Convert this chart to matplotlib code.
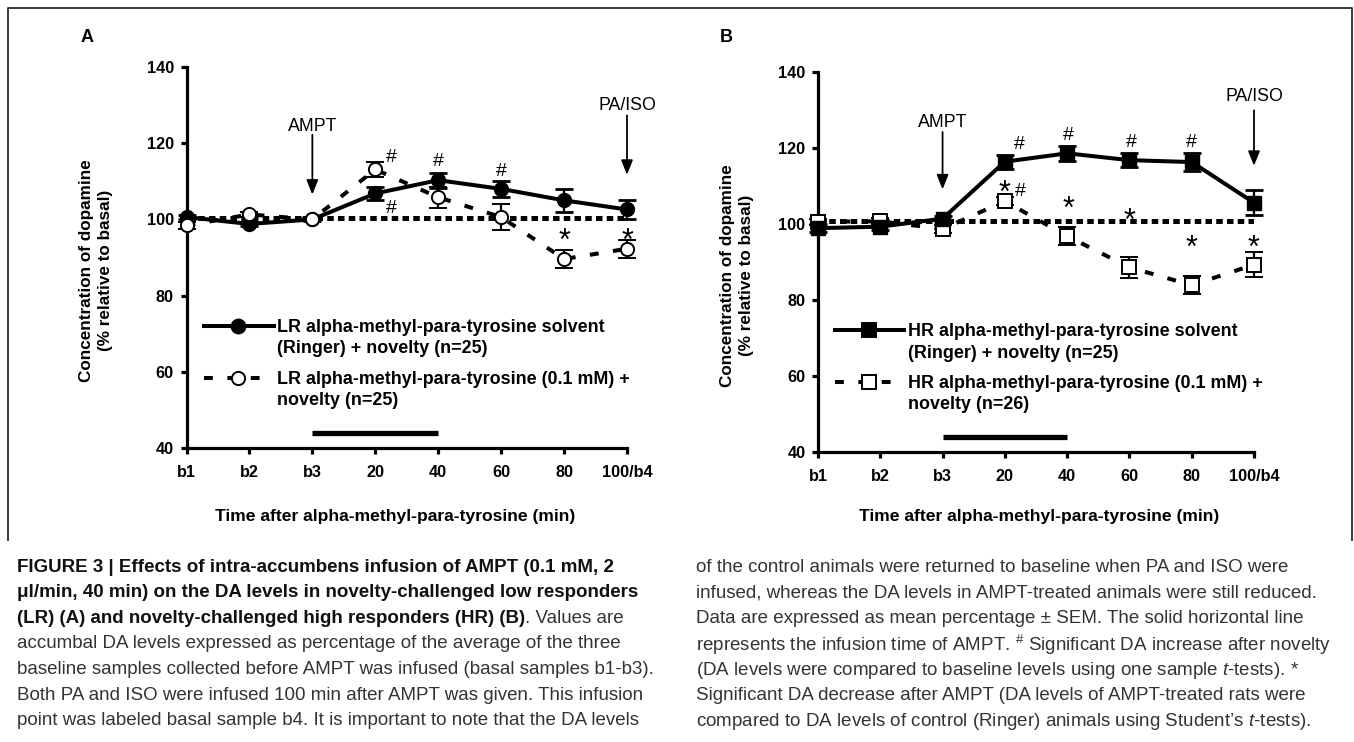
import numpy as np
import matplotlib.pyplot as plt
from matplotlib import font_manager
from matplotlib.lines import Line2D

installed = {f.name for f in font_manager.fontManager.ttflist}
CAP_FAMILY = 'Liberation Sans Narrow' if 'Liberation Sans Narrow' in installed else 'Liberation Sans'

plt.rcParams['font.family'] = ['Liberation Sans', 'DejaVu Sans']
plt.rcParams['mathtext.fontset'] = 'custom'
plt.rcParams['mathtext.rm'] = CAP_FAMILY
plt.rcParams['mathtext.it'] = CAP_FAMILY + ':italic'
plt.rcParams['mathtext.bf'] = CAP_FAMILY + ':bold'

# ---------------- data ----------------
time_labels = ['b1', 'b2', 'b3', '20', '40', '60', '80', '100/b4']

lr_ringer = [100.6, 98.8, 100.0, 106.8, 110.3, 108.0, 105.0, 102.6]
lr_ringer_sem = [0.6, 0.6, 0.5, 1.7, 2.0, 2.2, 3.0, 2.4]
lr_ampt = [98.4, 101.3, 100.0, 113.1, 105.8, 100.6, 89.6, 92.3]
lr_ampt_sem = [0.8, 0.6, 0.5, 1.9, 2.8, 3.5, 2.3, 2.4]

hr_ringer = [98.9, 99.3, 101.4, 116.4, 118.6, 116.8, 116.3, 105.6]
hr_ringer_sem = [1.0, 0.8, 0.8, 1.8, 2.0, 1.8, 2.3, 3.3]
hr_ampt = [100.6, 100.7, 98.7, 106.0, 96.8, 88.6, 83.9, 89.3]
hr_ampt_sem = [0.8, 0.8, 1.0, 1.0, 2.3, 2.7, 2.3, 3.3]

basal_A = 100.4
basal_B = 100.7
infusion = (2, 4)          # AMPT infused from b3 to 40 min
infusion_level = 44.0

# significance marks: (symbol, x index, y)
marks_A = [('#', 3.25, 116.9), ('#', 3.25, 103.3), ('#', 4.0, 115.7),
           ('#', 5.0, 113.0), ('*', 6.0, 96.6), ('*', 7.0, 96.6)]
marks_B = [('#', 3.24, 121.5), ('#', 4.02, 123.7), ('#', 5.03, 121.9),
           ('#', 6.0, 121.9), ('*', 3.0, 110.4), ('#', 3.25, 109.1),
           ('*', 4.02, 106.2), ('*', 5.0, 103.2), ('*', 6.0, 96.1),
           ('*', 7.0, 96.1)]

# event arrows: (label, x index, label y, arrow start y, arrow tip y)
events_A = [('AMPT', 2.0, 124.9, 122.2, 106.5), ('PA/ISO', 7.0, 130.4, 127.3, 111.7)]
events_B = [('AMPT', 2.0, 127.3, 124.2, 109.1), ('PA/ISO', 7.0, 134.0, 129.9, 115.3)]

labels_A = ['LR alpha-methyl-para-tyrosine solvent\n(Ringer) + novelty (n=25)',
            'LR alpha-methyl-para-tyrosine (0.1 mM) +\nnovelty (n=25)']
labels_B = ['HR alpha-methyl-para-tyrosine solvent\n(Ringer) + novelty (n=25)',
            'HR alpha-methyl-para-tyrosine (0.1 mM) +\nnovelty (n=26)']

caption_left = [
    ('FIGURE 3 | Effects of intra-accumbens infusion of AMPT (0.1 mM, 2', ''),
    ('\u03bcl/min, 40 min) on the DA levels in novelty-challenged low responders', ''),
    ('(LR) (A) and novelty-challenged high responders (HR) (B)', '. Values are'),
    ('', 'accumbal DA levels expressed as percentage of the average of the three'),
    ('', 'baseline samples collected before AMPT was infused (basal samples b1-b3).'),
    ('', 'Both PA and ISO were infused 100 min after AMPT was given. This infusion'),
    ('', 'point was labeled basal sample b4. It is important to note that the DA levels'),
]
caption_right = [
    'of the control animals were returned to baseline when PA and ISO were',
    'infused, whereas the DA levels in AMPT-treated animals were still reduced.',
    'Data are expressed as mean percentage \u00b1 SEM. The solid horizontal line',
    r'represents the infusion time of AMPT. $^{\#}$ Significant DA increase after novelty',
    r'(DA levels were compared to baseline levels using one sample $\mathit{t}$-tests). *',
    'Significant DA decrease after AMPT (DA levels of AMPT-treated rats were',
    r'compared to DA levels of control (Ringer) animals using Student’s $\mathit{t}$-tests).',
]

# ---------------- figure ----------------
W, H = 1354, 742
fig = plt.figure(figsize=(W / 100, H / 100), dpi=100)
renderer = fig.canvas.get_renderer()


def px_axes(x0, x1, ytop, ybot):
    return fig.add_axes([x0 / W, 1 - ybot / H, (x1 - x0) / W, (ybot - ytop) / H])


axA = px_axes(186.5, 627, 67, 448)
axB = px_axes(818, 1254, 72, 452)

LW = 2.9
DASH = (0, (2.2, 3.6))
LEG_FS = 12.9


def panel(ax, solid, solid_err, dashed, dashed_err, marker, basal, marks,
          events, labels, solid_on_top, ylab_x):
    x = np.arange(len(time_labels))
    zs, zd = (6, 5) if solid_on_top else (5, 6)
    ax.hlines(basal, x[0], x[-1], colors='k', lw=3.6,
              linestyles=(0, (1.3, 0.85)), zorder=3)
    ax.errorbar(x, solid, yerr=solid_err, color='k', lw=LW, marker=marker,
                ms=10, mfc='k', mec='k', elinewidth=1.6, capsize=6.2,
                capthick=2.0, zorder=zs, clip_on=False)
    ax.errorbar(x, dashed, yerr=dashed_err, color='k', lw=LW, ls=DASH,
                marker=marker, ms=9.5, mfc='white', mec='k', mew=1.4,
                elinewidth=1.6, capsize=6.2, capthick=2.0, zorder=zd,
                clip_on=False)
    ax.hlines(infusion_level, *infusion, colors='k', lw=3.8, zorder=3)

    for sym, xi, yi in marks:
        if sym == '*':
            ax.annotate(sym, (xi, yi), xytext=(0, -4.5), textcoords='offset points',
                        ha='center', va='center_baseline', fontsize=22)
        else:
            ax.annotate(sym, (xi, yi), ha='center', va='center_baseline',
                        fontsize=14)

    for lab, xi, ylab, y0, y1 in events:
        ax.text(xi, ylab, lab, ha='center', va='center_baseline', fontsize=12.8)
        ax.annotate('', xy=(xi, y1), xytext=(xi, y0),
                    arrowprops=dict(arrowstyle='-|>,head_length=0.55,head_width=0.22',
                                    color='k', lw=1.3, mutation_scale=16,
                                    shrinkA=0, shrinkB=0))

    ax.set_xlim(0, 7)
    ax.set_ylim(40, 140)
    ax.set_yticks(np.arange(40, 141, 20))
    ax.set_xticks(x)
    ax.set_xticklabels(time_labels)
    for s in ('top', 'right'):
        ax.spines[s].set_visible(False)
    for s in ('left', 'bottom'):
        ax.spines[s].set_linewidth(2.3)
    ax.tick_params(axis='both', direction='out', length=4, width=2.3,
                   labelsize=11.7)
    ax.tick_params(axis='x', pad=8)
    ax.tick_params(axis='y', pad=5)
    for t in ax.get_xticklabels() + ax.get_yticklabels():
        t.set_fontweight('bold')
    ax.patch.set_visible(False)

    ax.text(ylab_x, 0.465, 'Concentration of dopamine\n(% relative to basal)',
            transform=ax.transAxes, rotation=90, ha='center', va='center',
            multialignment='center', fontsize=12.3, fontweight='bold',
            linespacing=1.3)

    # legend, drawn by hand so the sample line sits on the first text line
    handles = [dict(ls='-', mfc='k', ms=10, yf=0.32),
               dict(ls=DASH, mfc='white', ms=9.5, yf=0.184)]
    for h, lab in zip(handles, labels):
        ax.add_line(Line2D([0.04, 0.198], [h['yf'], h['yf']], transform=ax.transAxes,
                           color='k', lw=LW, ls=h['ls'], clip_on=False))
        ax.add_line(Line2D([0.117], [h['yf']], transform=ax.transAxes, ls='none',
                           marker=marker, ms=h['ms'], mfc=h['mfc'], mec='k',
                           mew=1.4, clip_on=False))
        ax.annotate(lab, (0.206, h['yf']), xycoords='axes fraction',
                    xytext=(0, 0.4 * LEG_FS), textcoords='offset points',
                    ha='left', va='top', fontsize=LEG_FS, fontweight='bold',
                    linespacing=1.35)


panel(axA, lr_ringer, lr_ringer_sem, lr_ampt, lr_ampt_sem, 'o', basal_A,
      marks_A, events_A, labels_A, False, -0.206)
panel(axB, hr_ringer, hr_ringer_sem, hr_ampt, hr_ampt_sem, 's', basal_B,
      marks_B, events_B, labels_B, True, -0.186)

# panel letters and x labels
fig.text(87 / W, 1 - 36 / H, 'A', ha='center', va='center_baseline',
         fontsize=13, fontweight='bold')
fig.text(726 / W, 1 - 36 / H, 'B', ha='center', va='center_baseline',
         fontsize=13, fontweight='bold')
for xc in (395, 1039):
    fig.text(xc / W, 1 - 515 / H, 'Time after alpha-methyl-para-tyrosine (min)',
             ha='center', va='center_baseline', fontsize=12.6, fontweight='bold')

# frame around the figure panels (open at the bottom)
frame_x = np.array([7.5, 7.5, 1352, 1352]) / W
frame_y = 1 - np.array([540, 7.5, 7.5, 540]) / H
fig.add_artist(Line2D(frame_x, frame_y, transform=fig.transFigure,
                      color='#3c3c3c', lw=1.4))


# ---------------- caption ----------------
def text_width(s, fs, weight='normal'):
    t = fig.text(0, 0, s, fontsize=fs, family=CAP_FAMILY, fontweight=weight)
    w = t.get_window_extent(renderer).width
    t.remove()
    return w


# size the caption so its widest lines fill the two columns as in the print
w_left = text_width(caption_left[4][1], 10)
w_right = text_width(caption_right[3], 10)
CAP_FS = 10 * 0.5 * (646 / w_left + 632 / w_right)

line_y = [565 + 25.6 * i for i in range(7)]
for (bold, reg), y in zip(caption_left, line_y):
    x = 17 / W
    if bold:
        t = fig.text(x, 1 - y / H, bold, fontsize=CAP_FS, fontweight='bold',
                     family=CAP_FAMILY, color='#111111', va='center_baseline')
        x = fig.transFigure.inverted().transform(
            (t.get_window_extent(renderer).x1, 0))[0]
    if reg:
        fig.text(x, 1 - y / H, reg, fontsize=CAP_FS, family=CAP_FAMILY,
                 color='#333333', va='center_baseline')
for line, y in zip(caption_right, line_y):
    fig.text(696 / W, 1 - y / H, line, fontsize=CAP_FS, family=CAP_FAMILY,
             color='#333333', va='center_baseline')

fig.savefig('out.png', dpi=100)
